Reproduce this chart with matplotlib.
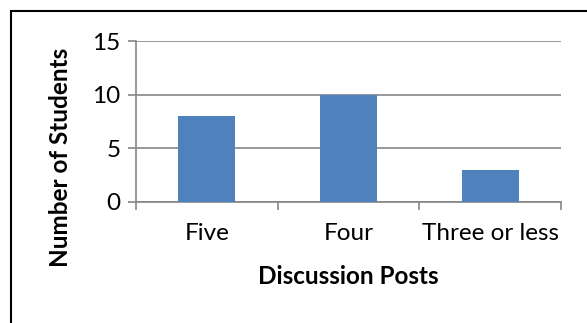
import matplotlib
matplotlib.use("Agg")
import matplotlib.pyplot as plt
from matplotlib.patches import Rectangle

categories = ["Five", "Four", "Three or less"]
values = [8, 10, 3]
yticks = [0, 5, 10, 15]

W, H = 587, 323
plt.rcParams['font.family'] = ['Lato', 'DejaVu Sans']

fig = plt.figure(figsize=(W / 100, H / 100), dpi=100)
ax = fig.add_axes([136 / W, 1 - 202 / H, (561 - 136) / W, (202 - 41) / H])

x = list(range(len(categories)))
ax.bar(x, values, width=0.4, color="#4F81BD", zorder=3)
ax.set_xlim(-0.5, len(categories) - 0.5)
ax.set_ylim(0, 15)
ax.set_yticks(yticks)
ax.set_yticklabels([str(t) for t in yticks])
ax.set_xticks(x)
ax.set_xticklabels(categories)
ax.set_xticks([i - 0.5 for i in range(len(categories) + 1)], minor=True)

gray = "#868686"
ax.grid(axis="y", color=gray, linewidth=1.2, zorder=0)
for s in ["top", "right"]:
    ax.spines[s].set_visible(False)
for s in ["left", "bottom"]:
    ax.spines[s].set_color(gray)
    ax.spines[s].set_linewidth(1.2)

fs = 17.5
ax.tick_params(axis="y", length=6, width=1.2, color=gray, pad=5, labelsize=fs, labelcolor="black")
ax.tick_params(axis="x", which="major", length=0, pad=15, labelsize=fs, labelcolor="black")
ax.tick_params(axis="x", which="minor", length=6, width=1.2, color=gray)

fig.text(348 / W, 1 - 277 / H, "Discussion Posts", ha="center", va="center",
         fontsize=fs, fontweight="bold")
fig.text(60 / W, 1 - 157 / H, "Number of Students", ha="center", va="center",
         rotation=90, fontsize=fs, fontweight="bold")

fig.patches.append(Rectangle((10.5 / W, -0.1), 1.2, 1.1 - 11 / H, transform=fig.transFigure,
                             fill=False, edgecolor="black", linewidth=1.5))

fig.savefig("out.png", dpi=100)
